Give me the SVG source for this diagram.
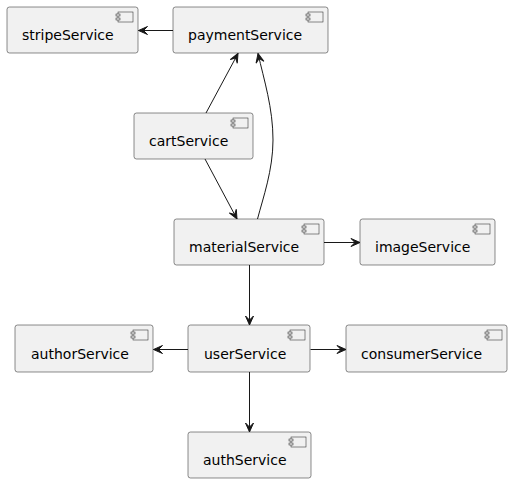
<svg xmlns="http://www.w3.org/2000/svg" width="512" height="483" viewBox="0 0 512 483">
<style>
.box{fill:#F1F1F1;stroke:#181818;stroke-width:0.5}
.ic{fill:#F1F1F1;stroke:#181818;stroke-width:0.5}
.lbl{font-family:"DejaVu Sans",sans-serif;font-size:14px;fill:#000}
.edge{fill:none;stroke:#181818;stroke-width:1;marker-end:url(#ah)}
</style>
<defs>
<marker id="ah" viewBox="-10 -5 11 10" refX="0" refY="0" markerWidth="11" markerHeight="10" markerUnits="userSpaceOnUse" orient="auto">
<path d="M0,0 L-9,-4 L-5,0 L-9,4 Z" fill="#181818" stroke="#181818" stroke-width="1"/>
</marker>
<g id="icon">
<rect class="ic" x="0" y="0" width="15" height="10"/>
<rect class="ic" x="-2" y="2" width="4" height="2"/>
<rect class="ic" x="-2" y="6" width="4" height="2"/>
</g>
</defs>
<rect width="512" height="483" fill="#FFFFFF"/>
<g id="edges">
<path class="edge" d="M173,30.5 L138.5,30.5"/>
<path class="edge" d="M206,113 L238,53.5"/>
<path class="edge" d="M205,159 L237,219"/>
<path class="edge" d="M257.5,219 C263,198 273,170 273,140 C273,108 264,80 258,53.5"/>
<path class="edge" d="M324,242.5 L360,242.5"/>
<path class="edge" d="M249.5,265 L249.5,325"/>
<path class="edge" d="M188,349.5 L153.5,349.5"/>
<path class="edge" d="M310.5,349.5 L346,349.5"/>
<path class="edge" d="M249.5,372 L249.5,432"/>
</g>
<g id="stripeService">
<rect class="box" x="7" y="7" width="131" height="46" rx="2.5"/>
<use href="#icon" x="118" y="12"/>
<text class="lbl" x="22" y="40.3">stripeService</text>
</g>
<g id="paymentService">
<rect class="box" x="173" y="7" width="155" height="46" rx="2.5"/>
<use href="#icon" x="308" y="12"/>
<text class="lbl" x="188" y="40.3">paymentService</text>
</g>
<g id="cartService">
<rect class="box" x="134" y="113" width="119" height="46" rx="2.5"/>
<use href="#icon" x="233" y="118"/>
<text class="lbl" x="149" y="146.3">cartService</text>
</g>
<g id="materialService">
<rect class="box" x="174" y="219" width="150" height="46" rx="2.5"/>
<use href="#icon" x="304" y="224"/>
<text class="lbl" x="189" y="252.3">materialService</text>
</g>
<g id="imageService">
<rect class="box" x="360" y="219" width="135" height="46" rx="2.5"/>
<use href="#icon" x="475" y="224"/>
<text class="lbl" x="375" y="252.3">imageService</text>
</g>
<g id="authorService">
<rect class="box" x="15" y="325" width="138" height="47" rx="2.5"/>
<use href="#icon" x="133" y="330"/>
<text class="lbl" x="31" y="358.8">authorService</text>
</g>
<g id="userService">
<rect class="box" x="188" y="325" width="122" height="47" rx="2.5"/>
<use href="#icon" x="290" y="330"/>
<text class="lbl" x="204" y="358.8">userService</text>
</g>
<g id="consumerService">
<rect class="box" x="346" y="325" width="161" height="47" rx="2.5"/>
<use href="#icon" x="487" y="330"/>
<text class="lbl" x="361" y="358.8">consumerService</text>
</g>
<g id="authService">
<rect class="box" x="188" y="432" width="123" height="46" rx="2.5"/>
<use href="#icon" x="291" y="437"/>
<text class="lbl" x="203" y="465.3">authService</text>
</g>
</svg>
